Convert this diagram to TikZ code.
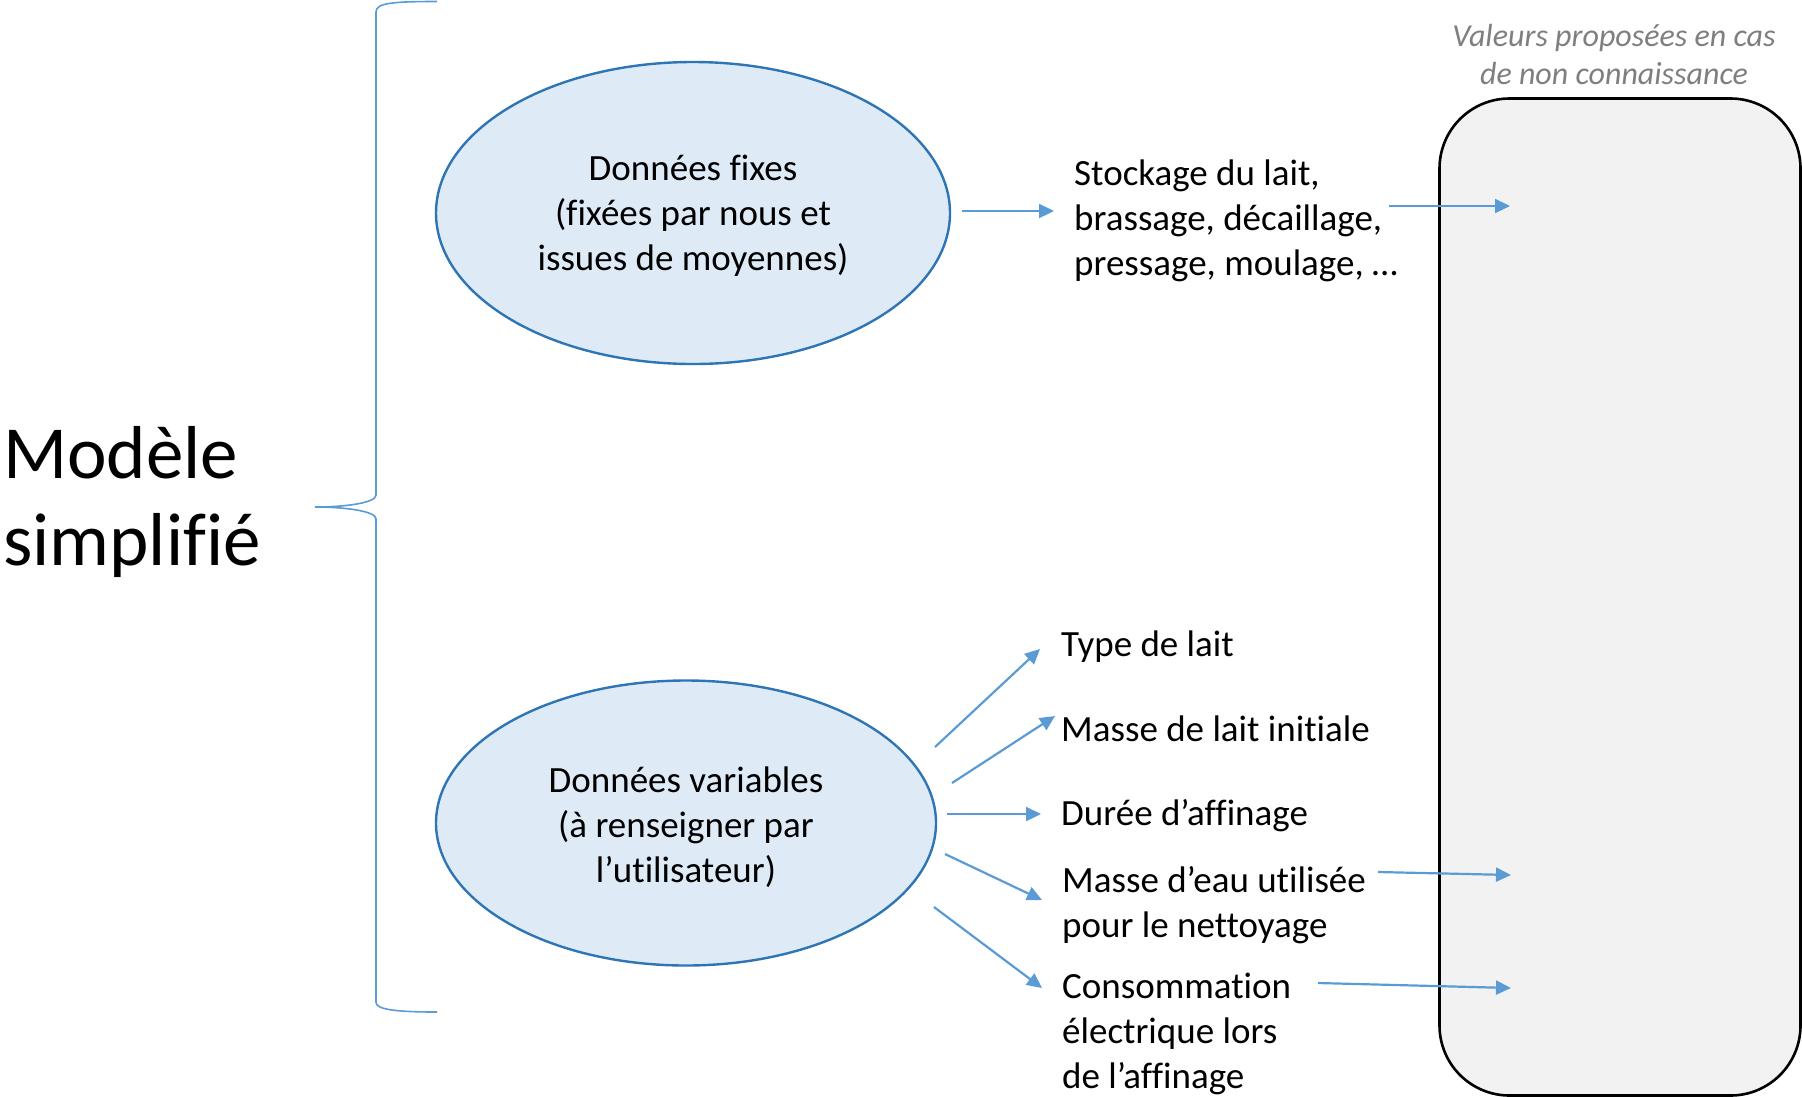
\documentclass[tikz,border=0pt]{standalone}
\usepackage{fontspec}
\setmainfont[Ligatures={NoCommon}]{Carlito}
\usetikzlibrary{shapes.geometric,arrows.meta}
\definecolor{ellfill}{HTML}{DEEBF7}
\definecolor{elldraw}{HTML}{2E75B6}
\definecolor{arrowc}{HTML}{5B9BD5}
\definecolor{boxfill}{HTML}{F2F2F2}
\definecolor{titlegray}{HTML}{7F7F7F}
\begin{document}
\begin{tikzpicture}[x=1pt,y=-1pt,
  bubble/.style={ellipse,draw=elldraw,fill=ellfill,line width=2.4pt,inner sep=0pt,
     font=\fontsize{37}{45}\selectfont,align=center},
  lbl/.style={anchor=west,inner sep=0pt,font=\fontsize{37}{45}\selectfont,align=left},
  arr/.style={draw=arrowc,line width=2.2pt,-{Triangle[length=15pt,width=14pt]}}]
\useasboundingbox (0,0) rectangle (1802,1096);
% right rounded box
\begin{scope}
\clip (0,0) rectangle (1802,1096);
\node[draw=black,fill=boxfill,line width=2.6pt,rounded corners=70pt,minimum width=361pt,minimum height=997pt,inner sep=0pt] (box) at (1620,597) {};
\end{scope}
\node[font=\fontsize{32}{38}\selectfont\itshape,text=titlegray,align=center,inner sep=0pt] (title) at (1614,55) {Valeurs proposées en cas\\de non connaissance};
% left title
\node[anchor=west,inner sep=0pt,font=\fontsize{75}{87}\selectfont,align=left] (model) at (3,502) {Modèle\\simplifié};
% brace
\draw[arrowc,line width=1.6pt] (437,1.5) .. controls (392,1.5) and (376,3) .. (376,12) -- (376,495) .. controls (376,503) and (345,507) .. (315,507)
  .. controls (345,507) and (376,511) .. (376,519) -- (376,1002) .. controls (376,1009) and (392,1012) .. (437,1012);
% ellipses
\node[bubble,minimum width=514pt,minimum height=302pt] (e1) at (693,213) {};
\node[font=\fontsize{37}{45}\selectfont,align=center,inner sep=0pt] (e1t) at (693,216) {Données fixes\\(fixées par nous et\\issues de moyennes)};
\node[bubble,minimum width=500pt,minimum height=285pt] (e2) at (686,823) {};
\node[font=\fontsize{37}{45}\selectfont,align=center,inner sep=0pt] (e2t) at (686,827) {Données variables\\(à renseigner par\\l’utilisateur)};
% labels
\node[lbl] (stock) at (1074,221) {Stockage du lait,\\brassage, décaillage,\\pressage, moulage, …};
\node[lbl] (type) at (1061,647) {Type de lait};
\node[lbl] (masse) at (1061,729) {Masse de lait initiale};
\node[lbl] (duree) at (1061,816) {Durée d’affinage};
\node[lbl] (eau) at (1062,905) {Masse d’eau utilisée\\pour le nettoyage};
\node[lbl] (conso) at (1062,1034) {Consommation\\électrique lors\\de l’affinage};
% coordinates
\coordinate (s1) at (962,211); \coordinate (t1) at (1054,211);
\coordinate (s2) at (1389,206); \coordinate (t2) at (1510,206);
\coordinate (sa) at (935,747); \coordinate (ta) at (1040,649);
\coordinate (sb) at (952,783); \coordinate (tb) at (1055,716);
\coordinate (sc) at (947,814); \coordinate (tc) at (1041,814);
\coordinate (sd) at (945,854); \coordinate (td) at (1042,900);
\coordinate (se) at (934,907); \coordinate (te) at (1042,988);
\coordinate (sf) at (1378,872); \coordinate (tf) at (1511,875);
\coordinate (sg) at (1318,983); \coordinate (tg) at (1511,988);
% arrows
\draw[arr] (s1) -- (t1);
\draw[arr] (s2) -- (t2);
\draw[arr] (sa) -- (ta);
\draw[arr] (sb) -- (tb);
\draw[arr] (sc) -- (tc);
\draw[arr] (sd) -- (td);
\draw[arr] (se) -- (te);
\draw[arr] (sf) -- (tf);
\draw[arr] (sg) -- (tg);
\end{tikzpicture}
\end{document}
